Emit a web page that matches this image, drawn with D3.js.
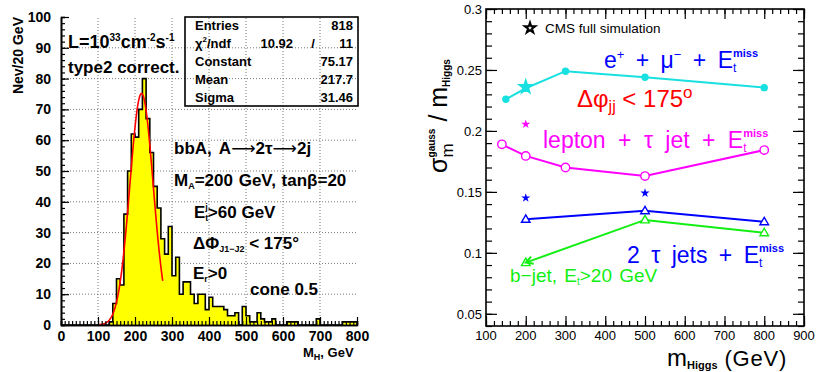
<!DOCTYPE html>
<html>
<head>
<meta charset="utf-8">
<script src="https://cdn.jsdelivr.net/npm/d3@7"></script>
<style>
  body { margin: 0; background: #fff; }
  svg { display: block; }
  text { font-family: "Liberation Sans", Arial, sans-serif; }
</style>
</head>
<body>
<svg id="chart" width="819" height="372"></svg>
<script>
// ---- left panel: M_H histogram (10 GeV bins from 0) ----
var binWidth = 10;
var binCounts = [0,0,0,0,0,0,0,0,0,0, 0,0,0,1,7,15,13,36,50,62,
                 61,70,80,67,56,45,38,28,23,32, 16,22,10,14,14,10,7,10,10,5,
                 9,6,6,6,5,3,3,4,0,6, 3,1,1,4,2,1,1,2,0,0,
                 0,1,1,1,0,0,0,0,0,2, 0,0,0,0,0,0,1,1,1,1];
var fitConstant = 75.17, fitMean = 217.7, fitSigma = 31.46;
var fitRange = [100, 275];
var histXTicks = [0,100,200,300,400,500,600,700,800];
var histYTicks = [0,10,20,30,40,50,60,70,80,90,100];
var statsRows = [["Entries", "818"], ["Constant", "75.17"], ["Mean", "217.7"], ["Sigma", "31.46"]];

// ---- right panel: sigma/m vs m_Higgs ----
var emuMass   = [150, 200, 300, 500, 800];
var emuRes    = [0.226, 0.235, 0.249, 0.244, 0.2355];
var ltauMass  = [140, 200, 300, 500, 800];
var ltauRes   = [0.189, 0.1795, 0.170, 0.163, 0.1843];
var tautauMass = [200, 500, 800];
var tautauRes  = [0.1275, 0.1345, 0.1255];
var bjetMass  = [200, 500, 800];
var bjetRes   = [0.092, 0.127, 0.1165];
var cmsStars = [
  {m: 200, r: 0.236, color: "#19e0e0", big: true},
  {m: 200, r: 0.2055, color: "#ff00ff"},
  {m: 200, r: 0.145, color: "#0000ff"},
  {m: 500, r: 0.149, color: "#0000ff"}
];
var resXTicks = [100,200,300,400,500,600,700,800,900];
var resYTicks = [0.05,0.1,0.15,0.2,0.25,0.3];
var resYLabels = ["0.05","0.1","0.15","0.2","0.25","0.3"];

var svg = d3.select("#chart");
var geo = "'DejaVu Sans', Verdana, sans-serif";

// rich text helper: parts = [{t, size, off, weight, family, stack}]
function rich(sel, x, y, parts, opts) {
  opts = opts || {};
  var t = sel.append("text").attr("x", x).attr("y", y)
      .attr("fill", opts.fill || "#000")
      .attr("font-size", opts.size || 14)
      .attr("font-weight", opts.weight || "normal");
  if (opts.family) t.attr("font-family", opts.family);
  if (opts.anchor) t.attr("text-anchor", opts.anchor);
  if (opts.transform) t.attr("transform", opts.transform);
  if (opts.wordSpacing) t.attr("word-spacing", opts.wordSpacing);
  var cur = 0, prev = null;
  parts.forEach(function(p) {
    var off = p.off || 0;
    var ts = t.append("tspan").attr("dy", off - cur).text(p.t);
    if (p.size) ts.attr("font-size", p.size);
    if (p.weight) ts.attr("font-weight", p.weight);
    if (p.family) ts.attr("font-family", p.family);
    if (p.ls) ts.attr("letter-spacing", p.ls);
    if (p.stack && prev) ts.attr("dx", -prev.node().getComputedTextLength());
    cur = off;
    prev = ts;
  });
  return t;
}

// ================= LEFT PANEL =================
var hx = d3.scaleLinear().domain([0, 800]).range([61, 357]);
var hy = d3.scaleLinear().domain([0, 100]).range([325, 17]);
var left = svg.append("g");

// grid
left.append("g").selectAll("line").data(histXTicks.slice(1, -1)).enter().append("line")
  .attr("x1", hx).attr("x2", hx).attr("y1", hy(0)).attr("y2", hy(100))
  .attr("stroke", "#777").attr("stroke-dasharray", "1,2");
left.append("g").selectAll("line").data(histYTicks.slice(1, -1)).enter().append("line")
  .attr("x1", hx(0)).attr("x2", hx(800)).attr("y1", hy).attr("y2", hy)
  .attr("stroke", "#777").attr("stroke-dasharray", "1,2");

// histogram
var histPts = binCounts.map(function(c, i) { return [i * binWidth, c]; });
histPts.push([binCounts.length * binWidth, 0]);
left.append("path").datum(histPts)
  .attr("d", d3.area().x(function(d) { return hx(d[0]); }).y0(hy(0)).y1(function(d) { return hy(d[1]); })
    .curve(d3.curveStepAfter))
  .attr("fill", "#ffff00");
left.append("path").datum(histPts)
  .attr("d", d3.line().x(function(d) { return hx(d[0]); }).y(function(d) { return hy(d[1]); })
    .curve(d3.curveStepAfter))
  .attr("fill", "none").attr("stroke", "#000").attr("stroke-width", 1.6);

// gaussian fit from the fit parameters
var fitPts = d3.range(fitRange[0], fitRange[1] + 0.5, 1).map(function(m) {
  return [m, fitConstant * Math.exp(-0.5 * Math.pow((m - fitMean) / fitSigma, 2))];
});
left.append("path").datum(fitPts)
  .attr("d", d3.line().x(function(d) { return hx(d[0]); }).y(function(d) { return hy(d[1]); }))
  .attr("fill", "none").attr("stroke", "#ff0000").attr("stroke-width", 1.6);

// axes
var hxAxis = d3.axisBottom(hx).tickValues(histXTicks).tickSizeInner(-8).tickSizeOuter(0).tickPadding(6)
  .tickFormat(d3.format("d"));
var hxMinor = d3.axisBottom(hx).tickValues(d3.range(0, 801, 10)).tickSize(-4).tickFormat("");
var hyAxis = d3.axisLeft(hy).tickValues(histYTicks).tickSizeInner(-8).tickSizeOuter(0).tickPadding(10)
  .tickFormat(d3.format("d"));
var hyMinor = d3.axisLeft(hy).tickValues(d3.range(0, 101, 2)).tickSize(-4).tickFormat("");

function styleAxis(g, size, weight) {
  g.select(".domain").attr("stroke", "#000").attr("stroke-width", 1.6);
  g.selectAll(".tick line").attr("stroke", "#000").attr("stroke-width", 1.2);
  g.selectAll(".tick text").attr("font-size", size).attr("font-weight", weight)
    .attr("font-family", "'Liberation Sans', Arial, sans-serif").attr("fill", "#000");
}
left.append("g").attr("transform", "translate(0," + hy(0) + ")").call(hxMinor).call(styleAxis, 14, "bold");
left.append("g").attr("transform", "translate(0," + hy(0) + ")").call(hxAxis).call(styleAxis, 14, "bold");
left.append("g").attr("transform", "translate(" + hx(0) + ",0)").call(hyMinor).call(styleAxis, 14, "bold");
left.append("g").attr("transform", "translate(" + hx(0) + ",0)").call(hyAxis).call(styleAxis, 14, "bold");

// axis titles
left.append("text").attr("transform", "translate(23," + hy(100) + ") rotate(-90)")
  .attr("text-anchor", "end").attr("font-size", 14).attr("font-weight", "bold").text("Nev/20 GeV");
rich(left, 303, 357, [{t: "M"}, {t: "H", size: 9, off: 3}, {t: ", GeV", off: 0}], {size: 13, weight: "bold"});

// stats box
var sb = left.append("g");
sb.append("rect").attr("x", 185).attr("y", 17).attr("width", 173).attr("height", 89)
  .attr("fill", "none").attr("stroke", "#000").attr("stroke-width", 1.6);
var rowY = [30, 48, 66, 84, 102];
function stat(x, y, s, anchor) {
  sb.append("text").attr("x", x).attr("y", y).attr("text-anchor", anchor || "start")
    .attr("font-size", 13).attr("font-weight", "bold").text(s);
}
stat(195, rowY[0], statsRows[0][0]);
stat(353, rowY[0], statsRows[0][1], "end");
rich(sb, 195, rowY[1], [{t: "\u03c7"}, {t: "2", size: 8, off: -6}, {t: "/ndf", off: 0}], {size: 13, weight: "bold"});
stat(293, rowY[1], "10.92", "end");
stat(313, rowY[1], "/", "middle");
stat(353, rowY[1], "11", "end");
statsRows.slice(1).forEach(function(r, i) {
  stat(195, rowY[i + 2], r[0]);
  stat(353, rowY[i + 2], r[1], "end");
});

// annotations
rich(left, 68, 48, [{t: "L=10"}, {t: "33", size: 10, off: -7}, {t: "cm", off: 0}, {t: "-2", size: 10, off: -7}, {t: "s", off: 0}, {t: "-1", size: 10, off: -7}], {size: 18, weight: "bold"});
left.append("text").attr("x", 68).attr("y", 73).attr("font-size", 17).attr("font-weight", "bold").text("type2 correct.");
rich(left, 174, 154, [{t: "bbA, A"}, {t: "\u27f6", family: "'DejaVu Sans', sans-serif", weight: "normal"}, {t: "2\u03c4"},
  {t: "\u27f6", family: "'DejaVu Sans', sans-serif", weight: "normal"}, {t: "2j"}], {size: 17, weight: "bold", wordSpacing: 3});
rich(left, 174, 186, [{t: "M"}, {t: "A", size: 9, off: 3}, {t: "=200 GeV, tan\u03b2=20", off: 0}], {size: 17, weight: "bold", wordSpacing: 1});
rich(left, 194, 218, [{t: "E"}, {t: "t", size: 9, off: 3}, {t: "j", size: 9, off: -8, stack: true}, {t: ">60 GeV", off: 0}], {size: 17, weight: "bold"});
rich(left, 193, 249, [{t: "\u0394\u03a6"}, {t: "J1\u2212J2", size: 9, off: 3}, {t: " < 175\u00b0", off: 0}], {size: 17, weight: "bold"});
rich(left, 193, 279, [{t: "E"}, {t: "r", size: 9, off: 3}, {t: ">0", off: 0}], {size: 17, weight: "bold"});
left.append("text").attr("x", 250).attr("y", 295).attr("font-size", 17).attr("font-weight", "bold").text("cone 0.5");

// ================= RIGHT PANEL =================
var rx = d3.scaleLinear().domain([100, 900]).range([486, 804]);
var ry = d3.scaleLinear().domain([0.04, 0.3]).range([326, 9]);
var right = svg.append("g");

function ticksOn(axisFn, scale, vals, size, pos) {
  right.append("g").attr("transform", pos)
    .call(axisFn(scale).tickValues(vals).tickSize(size).tickFormat(""))
    .call(function(g) {
      g.select(".domain").remove();
      g.selectAll(".tick line").attr("stroke", "#000").attr("stroke-width", 1.2);
    });
}
var xMinorVals = d3.range(100, 901, 20);
var yMinorVals = d3.range(0.04, 0.3001, 0.01);
ticksOn(d3.axisBottom, rx, xMinorVals, -5, "translate(0," + ry(0.04) + ")");
ticksOn(d3.axisBottom, rx, resXTicks, -10, "translate(0," + ry(0.04) + ")");
ticksOn(d3.axisTop, rx, xMinorVals, -5, "translate(0," + ry(0.3) + ")");
ticksOn(d3.axisTop, rx, resXTicks, -10, "translate(0," + ry(0.3) + ")");
ticksOn(d3.axisLeft, ry, yMinorVals, -6, "translate(" + rx(100) + ",0)");
ticksOn(d3.axisLeft, ry, resYTicks, -11, "translate(" + rx(100) + ",0)");
ticksOn(d3.axisRight, ry, yMinorVals, -6, "translate(" + rx(900) + ",0)");
ticksOn(d3.axisRight, ry, resYTicks, -11, "translate(" + rx(900) + ",0)");

right.append("rect").attr("x", rx(100)).attr("y", ry(0.3))
  .attr("width", rx(900) - rx(100)).attr("height", ry(0.04) - ry(0.3))
  .attr("fill", "none").attr("stroke", "#000").attr("stroke-width", 1.6);

right.selectAll(null).data(resXTicks).enter().append("text")
  .attr("x", rx).attr("y", 340).attr("text-anchor", "middle").attr("font-size", 13)
  .attr("font-family", geo).text(function(d) { return d; });
right.selectAll(null).data(resYTicks).enter().append("text")
  .attr("x", 482).attr("y", function(d) { return ry(d) + 5; }).attr("text-anchor", "end").attr("font-size", 13)
  .attr("font-family", geo).text(function(d, i) { return resYLabels[i]; });

// axis titles
rich(right, 667, 366, [{t: "m", size: 24}, {t: "Higgs", size: 11, weight: "bold", off: 3}, {t: " (GeV)", size: 22, off: 0, ls: 0.8}],
  {size: 22, family: geo});
rich(right, 447, 116, [{t: "\u03c3", size: 25}, {t: "m", size: 17, off: 6}, {t: "gauss", size: 10, weight: "bold", off: -12, stack: true},
  {t: " / m", size: 25, off: 0}, {t: "Higgs", size: 10, weight: "bold", off: 3}],
  {anchor: "middle", family: geo, transform: "rotate(-90,447,116)"});

// series
var line = d3.line().x(function(d) { return rx(d[0]); }).y(function(d) { return ry(d[1]); });
function series(mass, res, color) {
  var pts = mass.map(function(m, i) { return [m, res[i]]; });
  right.append("path").datum(pts).attr("d", line).attr("fill", "none").attr("stroke", color).attr("stroke-width", 2);
  return pts;
}
var emuPts = series(emuMass, emuRes, "#19e0e0");
var ltauPts = series(ltauMass, ltauRes, "#ff00ff");
var ttPts = series(tautauMass, tautauRes, "#0000ff");
var bjPts = series(bjetMass, bjetRes, "#11ee11");

right.selectAll(null).data(emuPts).enter().append("circle")
  .attr("cx", function(d) { return rx(d[0]); }).attr("cy", function(d) { return ry(d[1]); })
  .attr("r", 3.7).attr("fill", "#19e0e0");
right.selectAll(null).data(ltauPts).enter().append("circle")
  .attr("cx", function(d) { return rx(d[0]); }).attr("cy", function(d) { return ry(d[1]); })
  .attr("r", 4.2).attr("fill", "#fff").attr("stroke", "#ff00ff").attr("stroke-width", 1.4);
var tri = d3.symbol().type(d3.symbolTriangle).size(32);
function triangles(pts, color) {
  right.selectAll(null).data(pts).enter().append("path")
    .attr("transform", function(d) { return "translate(" + rx(d[0]) + "," + (ry(d[1]) + 0.5) + ")"; })
    .attr("d", tri).attr("fill", "#fff").attr("stroke", color).attr("stroke-width", 1.4);
}
triangles(ttPts, "#0000ff");
triangles(bjPts, "#11ee11");

// arrow head on b-jet line at first point
var a0 = [rx(bjPts[0][0]), ry(bjPts[0][1])], a1 = [rx(bjPts[1][0]), ry(bjPts[1][1])];
var ang = Math.atan2(a1[1] - a0[1], a1[0] - a0[0]);
right.append("path")
  .attr("d", "M" + (a0[0] + 8 * Math.cos(ang - 0.5)) + "," + (a0[1] + 8 * Math.sin(ang - 0.5)) +
    "L" + a0[0] + "," + a0[1] + "L" + (a0[0] + 8 * Math.cos(ang + 0.5)) + "," + (a0[1] + 8 * Math.sin(ang + 0.5)))
  .attr("fill", "none").attr("stroke", "#11ee11").attr("stroke-width", 2);

var star = d3.symbol().type(d3.symbolStar);
right.selectAll(null).data(cmsStars).enter().append("path")
  .attr("transform", function(d) { return "translate(" + rx(d.m) + "," + ry(d.r) + ")"; })
  .attr("d", function(d) { return star.size(d.big ? 100 : 26)(); })
  .attr("fill", function(d) { return d.color; });

// legend + labels
right.append("path").attr("transform", "translate(530,28)").attr("d", star.size(34)()).attr("fill", "#fff")
  .attr("stroke", "#000").attr("stroke-width", 2);
right.append("text").attr("x", 545).attr("y", 33).attr("font-size", 13.5).attr("font-family", geo).text("CMS full simulation");
rich(right, 604, 68, [{t: "e"}, {t: "+", size: 13, off: -9}, {t: " + \u03bc", off: 0}, {t: "\u2212", size: 13, off: -9},
  {t: " + E", off: 0}, {t: "t", size: 12, off: 4}, {t: "miss", size: 11, weight: "bold", off: -11, stack: true}],
  {size: 23, fill: "#0000ff", family: geo, wordSpacing: 5});
rich(right, 577, 107, [{t: "\u0394\u03c6"}, {t: "jj", size: 16, off: 5}, {t: " < 175", off: 0}, {t: "o", size: 17, off: -9}],
  {size: 24, fill: "#ff0000", family: "'Liberation Serif', 'Times New Roman', serif"});
rich(right, 543, 148, [{t: "lepton + \u03c4 jet + E"}, {t: "t", size: 12, off: 4}, {t: "miss", size: 11, weight: "bold", off: -11, stack: true}],
  {size: 23, fill: "#ff00ff", family: geo, wordSpacing: 6});
rich(right, 627, 263, [{t: "2 \u03c4 jets + E"}, {t: "t", size: 12, off: 4}, {t: "miss", size: 11, weight: "bold", off: -11, stack: true}],
  {size: 23, fill: "#0000ff", family: geo, wordSpacing: 5});
rich(right, 510, 282, [{t: "b\u2212jet, E"}, {t: "t", size: 10, off: 3}, {t: ">20 GeV", off: 0}],
  {size: 19, fill: "#11ee11", family: geo, wordSpacing: 2});
</script>
</body>
</html>
